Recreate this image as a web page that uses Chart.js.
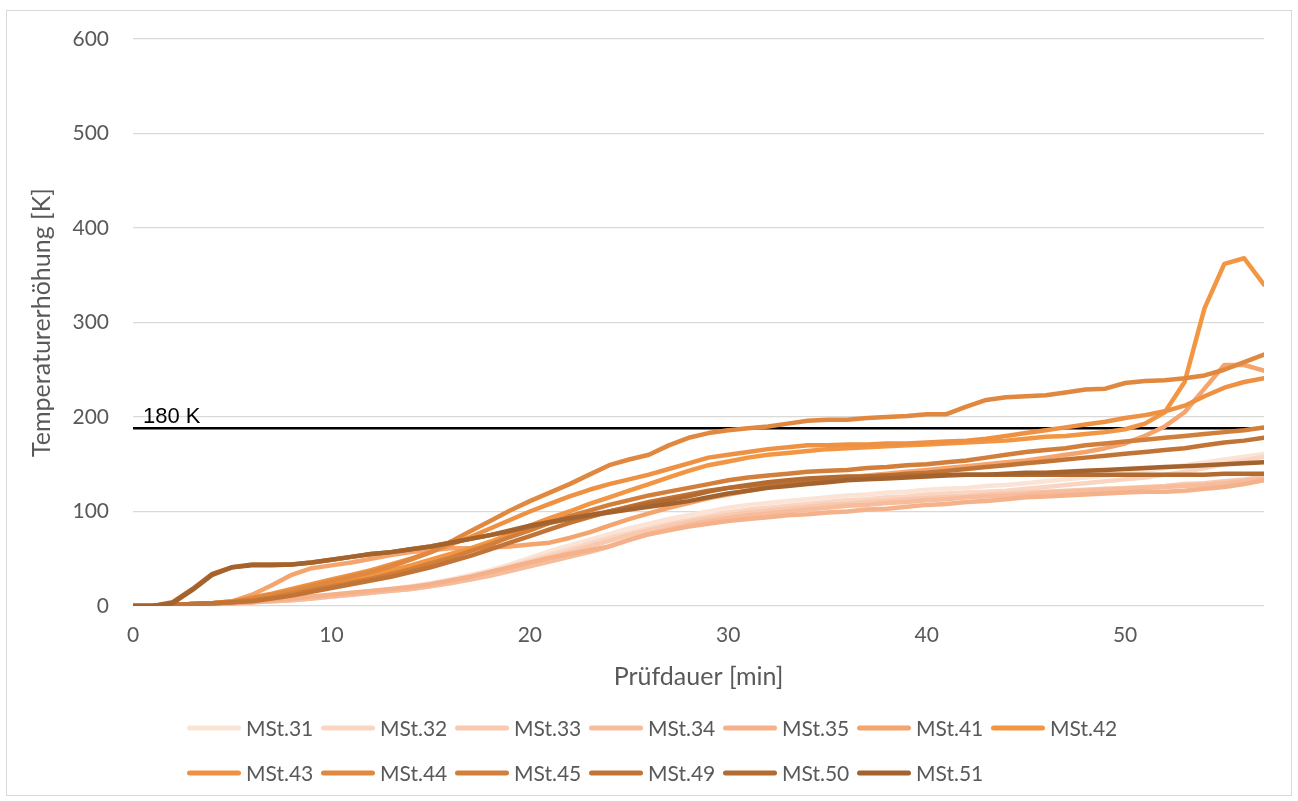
<!DOCTYPE html>
<html>
<head>
<meta charset="utf-8">
<script src="https://cdn.jsdelivr.net/npm/chart.js@4.4.1/dist/chart.umd.min.js"></script>
<style>
  html, body { margin: 0; padding: 0; background: #ffffff; }
  #wrap { position: relative; width: 1298px; height: 801px; }
  #frame { position: absolute; left: 6px; top: 10px; width: 1286px; height: 786px; border: 1px solid #D9D9D9; box-sizing: border-box; pointer-events: none; }
  canvas { position: absolute; left: 0; top: 0; }
</style>
</head>
<body>
<div id="wrap">
  <canvas id="c" width="1298" height="801"></canvas>
  <div id="frame"></div>
</div>
<script>
// ---- data ----
const MINUTES = [0,1,2,3,4,5,6,7,8,9,10,11,12,13,14,15,16,17,18,19,20,21,22,23,24,25,26,27,28,29,30,31,32,33,34,35,36,37,38,39,40,41,42,43,44,45,46,47,48,49,50,51,52,53,54,55,56,57];

const SERIES_NAMES = ["MSt.31","MSt.32","MSt.33","MSt.34","MSt.35","MSt.41","MSt.42","MSt.43","MSt.44","MSt.45","MSt.49","MSt.50","MSt.51"];

const MST31 = [0,0,1,2,3,4,5,6,8,10, 12,14,16,18,21,24,28,33,38,44, 51,58,64,70,76,82,87,92,96,100, 104,107,109,111,113,115,117,118,120,121, 123,124,125,127,128,130,132,134,136,138, 140,143,146,149,152,155,158,161];
const MST32 = [0,0,1,2,3,4,5,6,7,9, 11,13,15,17,19,22,26,31,36,42, 48,54,60,66,72,77,82,87,91,95, 99,102,104,106,108,110,112,113,115,116, 118,119,120,121,122,124,126,128,130,132, 134,136,139,142,146,150,154,158];
const MST33 = [0,0,1,1,2,3,4,5,6,8, 10,12,14,16,18,21,25,29,34,39, 45,51,57,63,69,75,80,85,89,93, 96,99,101,103,105,107,108,110,111,113, 114,115,116,118,119,120,121,122,123,124, 125,126,127,129,130,132,134,137];
const MST34 = [0,0,0,1,2,3,4,5,6,8, 10,12,14,16,18,21,24,28,32,37, 42,47,52,57,63,70,76,81,86,90, 93,96,98,100,102,104,106,107,109,110, 112,113,115,116,117,118,120,121,122,123, 124,125,126,127,128,130,132,135];
const MST35 = [0,0,0,1,2,3,4,6,8,10, 12,14,16,18,20,23,27,31,36,41, 46,51,55,59,63,70,76,80,84,87, 90,92,94,96,97,99,100,102,103,105, 107,108,110,111,113,115,116,117,118,119, 120,121,121,122,124,126,129,133];
const MST41 = [0,0,1,2,3,5,12,22,33,40, 43,46,50,54,57,59,61,61,62,63, 65,67,72,78,85,92,98,104,109,114, 118,122,126,129,132,134,136,138,140,142, 144,146,148,150,152,154,157,160,163,167, 172,180,190,205,230,255,255,249];
const MST42 = [0,0,1,2,3,4,7,11,15,19, 24,28,33,38,43,49,55,61,68,76, 85,93,100,108,115,122,129,136,143,149, 153,157,160,162,164,166,167,168,169,170, 171,172,173,174,175,177,179,180,182,184, 187,193,205,237,315,362,368,340];
const MST43 = [0,0,1,2,3,5,9,13,18,23, 28,33,38,44,50,57,65,73,82,91, 100,108,116,123,129,134,139,145,151,157, 160,163,166,168,170,170,171,171,172,172, 173,174,175,177,180,183,186,189,192,195, 199,202,206,212,222,231,237,241];
const MST44 = [0,0,1,2,3,4,8,12,16,21, 26,31,36,42,49,57,68,79,90,101, 111,120,129,139,149,155,160,170,178,183, 186,188,190,193,196,197,197,199,200,201, 203,203,211,218,221,222,223,226,229,230, 236,238,239,241,244,250,258,266];
const MST45 = [0,0,1,2,3,4,6,9,13,17, 21,25,29,34,39,45,51,58,65,73, 80,88,95,101,107,112,117,121,125,129, 133,136,138,140,142,143,144,146,147,149, 150,152,154,157,160,163,165,167,170,172, 174,176,178,180,182,184,186,189];
const MST49 = [0,0,1,2,3,4,5,8,11,15, 19,23,27,31,36,41,47,53,60,67, 74,81,88,94,100,105,110,114,118,122, 125,127,129,131,133,134,135,137,138,140, 141,143,145,147,149,151,153,155,157,159, 161,163,165,167,170,173,175,178];
const MST50 = [0,0,4,18,34,41,44,44,44,46, 49,52,55,57,60,63,67,71,75,79, 84,88,92,96,100,104,108,112,116,121, 125,128,131,133,135,136,137,137,138,138, 138,139,139,139,139,139,139,139,139,139, 139,139,139,139,139,140,140,140];
const MST51 = [0,0,3,17,33,41,43,43,44,46, 49,52,55,57,60,63,67,71,75,80, 85,89,93,96,99,102,105,108,111,115, 119,122,125,127,129,131,133,134,135,136, 137,138,139,139,140,141,141,142,143,144, 145,146,147,148,149,150,151,152];

const SERIES_VALUES = [MST31, MST32, MST33, MST34, MST35, MST41, MST42, MST43, MST44, MST45, MST49, MST50, MST51];
const SERIES_COLORS = ["#FBE3D6","#F9D5C2","#F8C8AF","#F6BC9C","#F5B18A","#F4A56E","#F39643","#EE9143","#E0883F","#D27F3B","#C27436","#B36B31","#A4632D"];

const THRESHOLD_VALUE = 188;
const THRESHOLD_LABEL = "180 K";
const THRESHOLD_X = [0, 57];

const X_TITLE = "Prüfdauer [min]";
const Y_TITLE = "Temperaturerhöhung [K]";

// ---- build datasets ----
const datasets = SERIES_NAMES.map((name, i) => ({
  label: name,
  data: MINUTES.map((m, k) => ({ x: m, y: SERIES_VALUES[i][k] })),
  borderColor: SERIES_COLORS[i],
  backgroundColor: SERIES_COLORS[i],
  borderWidth: 4.5,
  borderCapStyle: 'round',
  borderJoinStyle: 'round',
  pointRadius: 0,
  tension: 0,
  fill: false,
  order: SERIES_NAMES.length - i
}));
datasets.push({
  label: THRESHOLD_LABEL,
  inLegend: false,
  data: THRESHOLD_X.map(x => ({ x: x, y: THRESHOLD_VALUE })),
  borderColor: '#000000',
  borderWidth: 2.5,
  pointRadius: 0,
  fill: false,
  order: 100
});

const TEXT_COLOR = '#595959';
const BASE_FONT = 'Lato, "Open Sans", sans-serif';

const legendPlugin = {
  id: 'excelLegend',
  afterDraw(chart) {
    const ctx = chart.ctx;
    const items = chart.data.datasets.filter(d => d.inLegend !== false);
    const left = 187, pitch = 134, perRow = 7, rowY = [728, 773], sample = 54;
    ctx.save();
    ctx.font = '21px ' + BASE_FONT;
    ctx.textBaseline = 'middle';
    ctx.textAlign = 'left';
    items.forEach((d, i) => {
      const row = Math.floor(i / perRow), col = i % perRow;
      const x = left + col * pitch;
      const y = rowY[row];
      ctx.strokeStyle = d.borderColor;
      ctx.lineWidth = 5;
      ctx.lineCap = 'round';
      ctx.beginPath();
      ctx.moveTo(x + 2.5, y);
      ctx.lineTo(x + sample - 2.5, y);
      ctx.stroke();
      ctx.fillStyle = TEXT_COLOR;
      ctx.fillText(d.label, x + sample + 5, y + 1);
    });
    ctx.restore();
  }
};

const thresholdLabelPlugin = {
  id: 'thresholdLabel',
  afterDatasetsDraw(chart) {
    const ctx = chart.ctx;
    const yScale = chart.scales.y;
    const y = yScale.getPixelForValue(THRESHOLD_VALUE);
    ctx.save();
    ctx.font = '22px "Liberation Sans", Arial, sans-serif';
    ctx.fillStyle = '#000000';
    ctx.textBaseline = 'alphabetic';
    ctx.textAlign = 'left';
    ctx.fillText(THRESHOLD_LABEL, chart.chartArea.left + 10, y - 5);
    ctx.restore();
  }
};

new Chart(document.getElementById('c'), {
  type: 'line',
  data: { datasets },
  options: {
    responsive: false,
    animation: false,
    devicePixelRatio: 1,
    layout: { padding: { left: 20, right: 34, top: 39, bottom: 95 } },
    plugins: {
      legend: { display: false },
      tooltip: { enabled: false }
    },
    scales: {
      x: {
        type: 'linear',
        min: 0,
        max: 57,
        grid: { display: false, drawTicks: false },
        border: { display: false },
        ticks: { stepSize: 10, includeBounds: false, padding: 17, color: TEXT_COLOR, font: { family: BASE_FONT, size: 21 } },
        title: { display: true, text: X_TITLE, color: TEXT_COLOR, font: { family: BASE_FONT, size: 25 }, padding: { top: 0, bottom: 14 } },
        afterFit(scale) { scale.height = 100; }
      },
      y: {
        min: 0,
        max: 600,
        grid: { color: '#D9D9D9', lineWidth: 1.3, drawTicks: false },
        border: { display: false },
        ticks: { stepSize: 100, padding: 24, color: TEXT_COLOR, font: { family: BASE_FONT, size: 21 } },
        title: { display: true, text: Y_TITLE, color: TEXT_COLOR, font: { family: BASE_FONT, size: 25 }, padding: { top: 7, bottom: 0 } },
        afterFit(scale) { scale.width = 113; }
      }
    }
  },
  plugins: [legendPlugin, thresholdLabelPlugin]
});
</script>
</body>
</html>
